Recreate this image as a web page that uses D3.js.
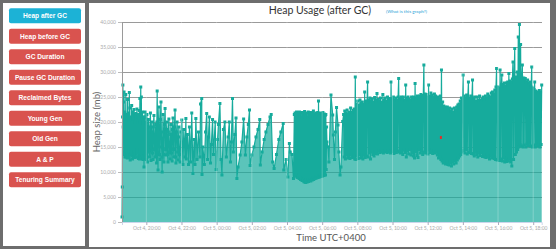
<!DOCTYPE html>
<html>
<head>
<meta charset="utf-8">
<script src="https://cdn.jsdelivr.net/npm/d3@7"></script>
<style>
body { margin: 0; background: #6d6d6d; }
svg { display: block; }
</style>
</head>
<body>
<svg width="556" height="249"></svg>
<script>
// Menu buttons on the left.
var buttonLabels = ["Heap after GC", "Heap before GC", "GC Duration", "Pause GC Duration",
	"Reclaimed Bytes", "Young Gen", "Old Gen", "A & P", "Tenuring Summary"];

// Heap after GC (mb). Times are minutes after Oct 4, 18:37 (UTC+0400).
// Irregular GC events in the evening / night.
var sparseGC = [[0,1000],[1,7000],[2,21000],[3,27400],[4,19000],[5,24000],[6,14000],[7,26000],[8,13500],[9,22000],
	[10,13000],[11,21000],[12,14200],[13,25500],[14,13000],[15,21500],[16,13800],[17,20500],[18,12800],[19,24500],
	[20,13500],[21,21800],[22,12900],[23,20400],[24,14000],[25,25900],[26,13500],[27,22800],[28,12400],[29,21000],
	[30,13600],[31,20500],[32,14000],[33,23300],[34,13200],[35,21000],[36,12600],[37,22000],[38,13400],[39,20600],
	[40,13000],[41,22500],[42,13400],[43,20000],[44,12900],[45,21500],[46,13600],[47,21700],[48,13000],[49,21200],
	[50,14500],[51,22600],[52,13800],[53,21000],[54,13000],[55,21500],[56,12700],[57,20800],[58,13500],[59,22300],
	[60,12600],[61,24700],[62,13200],[63,20000],[64,27000],[65,13300],[66,25000],[67,12700],[68,20800],[69,13000],
	[70,22000],[71,12500],[72,19800],[73,12700],[74,21000],[75,11000],[76,20800],[77,12800],
	[78,21000],[79,22000],[80,13800],[82,12500],[83,19800],[85,21500],[86,14000],[87,12000],[89,18500],[90,20500],
	[92,14200],[94,13000],[95,19000],[97,21800],[98,15000],[99,12300],[101,18000],[102,20000],[104,13800],[106,12500],
	[107,19000],[109,21300],[111,14500],[113,13000],[114,17500],[115,19500],[117,13500],[118,11800],[119,20000],[120,26200],
	[122,14000],[123,10400],[124,18500],[126,23000],[128,13500],[130,12500],[131,20500],[133,24000],[135,15000],[136,13000],
	[137,10000],[139,18000],[140,21500],[142,13500],[143,12000],[145,19500],[147,22700],[149,14500],[150,13400],[152,18500],
	[153,20000],[155,13500],[157,12000],[158,18000],[160,20600],[162,14000],[164,12600],[166,17500],[167,19500],[169,13800],
	[171,12200],[172,18500],[174,20800],[176,14500],[177,13000],[179,19000],[181,22400],[183,13000],[184,11800],[186,18000],
	[188,20000],[190,14000],[191,12400],[193,17000],[194,19000],[196,13500],[198,12000],[201,18000],
	[204,20400],[208,11500],[211,18500],[215,13000],[218,20700],[219,12600],[223,17500],[227,11500],[230,19000],[234,12000],
	[238,21800],[242,9700],[246,16500],[249,11500],[252,20700],[256,12500],[261,18000],[266,13000],[268,23600],[272,24700],
	[273,9500],[276,15000],[281,11500],[285,18000],[289,21700],[292,12500],[295,17000],[298,21000],[302,11800],[305,15500],
	[309,20500],[312,13500],[318,20000],[321,10500],[326,16500],[329,19500],[334,23700],[338,12500],[341,9400],[346,18500],
	[351,20000],[356,13000],[362,17000],[366,20000],[370,12000],[373,16000],[377,24700],[380,14000],[385,17500],[389,20800],
	[392,8700],[396,11000],[403,13400],[409,16000],[415,20600],[421,13400],[426,17000],[431,19500],[435,22400],[437,11300],
	[443,13400],[450,15000],[457,17000],[464,18500],[470,20500],[472,11400],[478,14000],[485,16500],[491,18000],[498,19500],
	[505,21000],[509,21500],[514,12000],[519,10700],[527,13500],[535,16500],[542,18000],[550,19700],[552,10400],[560,12500],
	[566,9000],[571,15700],[574,14000],[580,13500],[585,8700]];

// Busy period around 04:15 - 06:10, one GC every 1.25 minutes.
var burstStart = 588, burstStep = 1.25;
var burstValues = [21500, 9400, 21800, 9200, 21000, 9500, 22000, 9000, 21300, 8900,
	21700, 9100, 21200, 8700, 22000, 8800, 21400, 8500, 21800, 8600,
	21000, 8300, 21900, 8400, 21500, 8200, 21200, 8000, 22100, 8300,
	21600, 7900, 21300, 8200, 21800, 8000, 21000, 8400, 22000, 8100,
	21500, 8300, 21200, 8500, 21900, 8200, 21400, 8700, 21700, 8400,
	21100, 8800, 22200, 8500, 21500, 8900, 21000, 8700, 21800, 9000,
	21300, 8800, 21600, 9100, 21900, 8900, 24200, 9200, 21500, 9000,
	21800, 9300, 21200, 9100, 21700, 9400, 21400, 9200, 21900, 9500,
	21000, 9300, 21600, 9600, 21300, 9400, 21500, 10500, 19000, 16000];

var bridgeGC = [[703,15000],[706,12000],[713,25400],[719,21400],[721,17400],[725,12500],[728,18000],
	[732,22900],[737,19400],[740,14000],[744,9400],[747,11000],[753,20100]];

// Daytime load, one GC every 2 minutes.
var dayStart = 756, dayStep = 2;
var dayValues = [
	21500, 13000, 22200, 12600, 21800, 13400, 22400, 12800, 21600, 13200, 22000, 12700, 22800, 13500, 21900, 12900, 22300, 13100, 22600, 12600,
	29000, 12500, 23600, 13300, 24200, 12700, 23400, 13500, 24400, 12800, 23800, 13000, 24000, 12600, 23500, 13400, 26000, 12900, 24200, 13200,
	24000, 28000, 13000, 24400, 13800, 24800, 12600, 24200, 14000, 24600, 13500, 24000, 13200, 24900, 13700, 24300, 14000, 25700, 13600, 24500,
	14200, 24200, 13900, 24800, 14300, 24000, 14000, 25500, 13800, 24400, 14200, 24800, 14100, 24200, 13900, 25000, 14300, 24500, 14000, 24700,
	13800, 28000, 14100, 24500, 14300, 25000, 13700, 24400, 14000, 24800, 13900, 24300, 14200, 25000, 28700, 14000, 24600, 13800, 25000, 14100,
	24500, 13500, 25000, 14400, 24400, 13900, 27400, 13000, 24800, 14200, 25000, 13600, 24500, 14500, 24300, 13400, 25000, 13900, 24600, 13200,
	25000, 12800, 27700, 14000, 24800, 13300, 25200, 12900, 24800, 14500, 25200, 13800, 25500, 14200, 24900, 13500, 25300, 31400, 14000, 25600,
	13800, 25500, 14200, 25000, 13600, 27400, 14400, 25200, 13900, 25800, 14100, 25400, 13700, 25000, 14300, 25600, 13800, 25200, 14000, 24900,
	13400, 25000, 12800, 24600, 13000, 25200, 12500, 30400, 12200, 24000, 11800, 23200, 12100, 23000, 11600, 22800, 12000, 23000, 11500, 22600,
	11400, 22800, 11900, 22200, 11200, 22600, 12000, 22000, 11600, 22800, 12300, 22400, 11800, 23000, 12400, 23400, 12800, 23600, 13200, 24200,
	13500, 24800, 14000, 24600, 29400, 14300, 25200, 13800, 24800, 14500, 25400, 13600, 25000, 28000, 13900, 24700, 14200, 25200, 13700, 25000,
	28400, 13600, 24800, 13200, 25000, 14000, 24200, 13500, 25000, 13000, 24400, 13800, 25200, 13300, 24300, 13900, 24600, 13100, 25000, 13400,
	24600, 13000, 25200, 12900, 24800, 13300, 25600, 13000, 25200, 12600, 25000, 13200, 25800, 12800, 26000, 13100, 25600, 12700, 26400, 12500,
	27000, 30700, 12400, 27000, 12800, 26800, 12300, 30400, 12600, 27200, 29400, 12200, 27500, 12800, 27800, 12000, 27200, 12400, 27800, 12100,
	28000, 12300, 29700, 12600, 28200, 12000, 28000, 11200, 28600, 32000, 12500, 28800, 34700, 13500, 29000, 14000, 30000, 14500, 37000, 15000,
	39500, 15500, 35500, 15200, 29000, 31400, 15000, 28800, 15400, 28500, 28700, 15000, 28000, 15600, 28400, 15300, 27800, 15800, 28000, 15200,
	27000, 31000, 15000, 26800, 15400, 26500, 28000, 15000, 26200, 15600, 26000, 15200, 25700, 15400, 26300, 15000, 26000, 15500, 27400];

// Single highlighted event (red).
var fullGC = [[1088, 16900]];

var yTickValues = [0, 5000, 10000, 15000, 20000, 25000, 30000, 35000, 40000];

var svg = d3.select("svg");
var base = Date.UTC(2019, 9, 4, 18, 37);
function at(min) { return new Date(base + min * 60000); }

// Collect all points.
var points = [];
sparseGC.forEach(function(p) { points.push({t: at(p[0]), v: p[1]}); });
burstValues.forEach(function(v, i) { points.push({t: at(burstStart + i * burstStep), v: v}); });
bridgeGC.forEach(function(p) { points.push({t: at(p[0]), v: p[1]}); });
dayValues.forEach(function(v, i) { points.push({t: at(dayStart + i * dayStep), v: v}); });
points.sort(function(a, b) { return a.t - b.t; });

// Panels.
svg.append("rect").attr("x", 3).attr("y", 3).attr("width", 82).attr("height", 243).attr("fill", "#fff");
svg.append("rect").attr("x", 89).attr("y", 3).attr("width", 461).attr("height", 244).attr("fill", "#fff");

var btn = svg.append("g").selectAll("g")
	.data(buttonLabels)
	.enter()
	.append("g")
	.attr("transform", function(d, i) { return "translate(9," + (8.3 + i * 20.5) + ")"; });
btn.append("rect")
	.attr("width", 72)
	.attr("height", 15)
	.attr("rx", 2)
	.attr("fill", function(d, i) { return i == 0 ? "#1cb2d6" : "#d9534f"; });
btn.append("text")
	.attr("x", 36)
	.attr("y", 10.2)
	.attr("text-anchor", "middle")
	.attr("fill", "#fff")
	.attr("font-family", "Liberation Sans, Arial, sans-serif")
	.attr("font-weight", "bold")
	.attr("font-size", 6.6)
	.text(function(d) { return d; });

// Scales.
var x = d3.scaleUtc().domain(d3.extent(points, function(d) { return d.t; })).range([122, 541.7]);
var y = d3.scaleLinear().domain([0, 40000]).range([222, 22]);

// Horizontal grid lines.
svg.append("g")
	.selectAll("line")
	.data(yTickValues.slice(1))
	.enter()
	.append("line")
	.attr("x1", 122).attr("x2", 541.7)
	.attr("y1", function(d) { return y(d); })
	.attr("y2", function(d) { return y(d); })
	.attr("stroke", "#9a9a9a")
	.attr("shape-rendering", "crispEdges");

// Area and line.
var teal = "#16ab9c";
svg.append("path")
	.datum(points)
	.attr("fill", teal)
	.attr("fill-opacity", 0.7)
	.attr("d", d3.area().x(function(d) { return x(d.t); }).y0(y(0)).y1(function(d) { return y(d.v); }));
svg.append("path")
	.datum(points)
	.attr("fill", "none")
	.attr("stroke", teal)
	.attr("stroke-width", 1.2)
	.attr("d", d3.line().x(function(d) { return x(d.t); }).y(function(d) { return y(d.v); }));
svg.append("g")
	.selectAll("rect")
	.data(points)
	.enter()
	.append("rect")
	.attr("x", function(d) { return x(d.t) - 1.5; })
	.attr("y", function(d) { return y(d.v) - 1.5; })
	.attr("width", 3).attr("height", 3)
	.attr("fill", teal);

svg.append("g")
	.selectAll("rect")
	.data(fullGC)
	.enter()
	.append("rect")
	.attr("x", function(d) { return x(at(d[0])) - 1; })
	.attr("y", function(d) { return y(d[1]) - 1.5; })
	.attr("width", 2).attr("height", 3)
	.attr("fill", "#e0302a");

// Light vertical grid lines over the series.
var xTicks = x.ticks(d3.utcHour.every(2));
svg.append("g")
	.selectAll("line")
	.data(xTicks)
	.enter()
	.append("line")
	.attr("x1", function(d) { return x(d); })
	.attr("x2", function(d) { return x(d); })
	.attr("y1", 22).attr("y2", 222)
	.attr("stroke", "#fff")
	.attr("stroke-opacity", 0.25);

// Axes.
var yAxis = svg.append("g")
	.attr("transform", "translate(122,0)")
	.call(d3.axisLeft(y).tickValues(yTickValues).tickSize(4).tickPadding(2).tickFormat(d3.format(",")));
yAxis.select(".domain").attr("stroke", "#9a9a9a");
yAxis.selectAll(".tick line").attr("stroke", "#bbb");
yAxis.selectAll("text").attr("fill", "#aaa").attr("font-family", "Lato").attr("font-size", 5);

var xAxis = svg.append("g")
	.attr("transform", "translate(0,222)")
	.call(d3.axisBottom(x).tickValues(xTicks).tickSize(3).tickPadding(1.5).tickFormat(d3.utcFormat("%b %-d, %H:%M")));
xAxis.select(".domain").attr("stroke", "#ccd6eb");
xAxis.selectAll(".tick line").attr("stroke", "#aab");
xAxis.selectAll("text").attr("fill", "#aaa").attr("font-family", "Lato").attr("font-size", 5);

// Titles.
svg.append("text")
	.attr("x", 320).attr("y", 14)
	.attr("text-anchor", "middle")
	.attr("font-family", "Lato").attr("font-size", 10.5).attr("fill", "#333")
	.text("Heap Usage (after GC)");
svg.append("text")
	.attr("x", 386).attr("y", 12.5)
	.attr("font-family", "Lato").attr("font-size", 4.6).attr("fill", "#2a9fd6")
	.text("(What is this graph?)");
svg.append("text")
	.attr("transform", "translate(100,122) rotate(-90)")
	.attr("text-anchor", "middle")
	.attr("font-family", "Lato").attr("font-size", 9.5).attr("fill", "#666")
	.text("Heap size (mb)");
svg.append("text")
	.attr("x", 331).attr("y", 241)
	.attr("text-anchor", "middle")
	.attr("font-family", "Lato").attr("font-size", 9.5).attr("fill", "#555")
	.text("Time UTC+0400");
</script>
</body>
</html>
